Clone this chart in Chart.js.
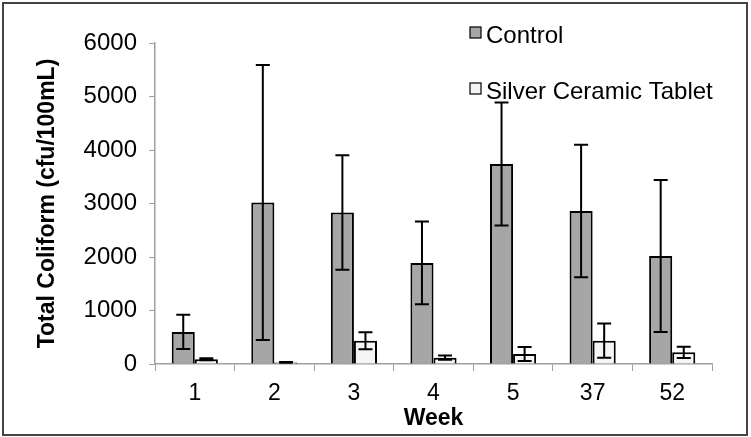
<!DOCTYPE html>
<html>
<head>
<meta charset="utf-8">
<script src="https://cdn.jsdelivr.net/npm/chart.js@4.4.0/dist/chart.umd.min.js"></script>
<style>
  html, body { margin: 0; padding: 0; background: #fff; }
  canvas { display: block; }
</style>
</head>
<body>
<canvas id="chart" width="751" height="437"></canvas>
<script>
// values
const weeks = ['1', '2', '3', '4', '5', '37', '52'];
const controlMeans = [600, 3020, 2830, 1890, 3740, 2860, 2020];
const controlErr = [320, 2570, 1070, 775, 1150, 1240, 1420];
const silverMeans = [88, 30, 435, 118, 187, 435, 218];
const silverErr = [20, 8, 160, 40, 130, 320, 105];
const yTicks = [0, 1000, 2000, 3000, 4000, 5000, 6000];

const FONT = "'Liberation Sans', Arial, Helvetica, sans-serif";

// white page with the dark frame round the whole picture
const frame = {
  id: 'frame',
  beforeDraw(chart) {
    const ctx = chart.ctx;
    ctx.save();
    ctx.fillStyle = '#fff';
    ctx.fillRect(0, 0, chart.width, chart.height);
    ctx.strokeStyle = '#444';
    ctx.lineWidth = 2;
    ctx.strokeRect(3, 3, chart.width - 7, chart.height - 5);
    ctx.restore();
  }
};

// error bars drawn from the y scale
const errorBars = {
  id: 'errorBars',
  afterDatasetsDraw(chart) {
    const ctx = chart.ctx;
    const y = chart.scales.y;
    const errs = [controlErr, silverErr];
    ctx.save();
    ctx.strokeStyle = '#000';
    ctx.lineWidth = 2;
    chart.data.datasets.forEach((ds, i) => {
      chart.getDatasetMeta(i).data.forEach((bar, j) => {
        const v = ds.data[j];
        const e = errs[i][j];
        const top = y.getPixelForValue(v + e);
        const bot = y.getPixelForValue(Math.max(v - e, 0));
        const x = bar.x;
        ctx.beginPath();
        ctx.moveTo(x, top); ctx.lineTo(x, bot);
        ctx.moveTo(x - 7, top); ctx.lineTo(x + 7, top);
        ctx.moveTo(x - 7, bot); ctx.lineTo(x + 7, bot);
        ctx.stroke();
      });
    });
    ctx.restore();
  }
};

// legend in the top right corner, stacked
const cornerLegend = {
  id: 'cornerLegend',
  afterDraw(chart) {
    const ctx = chart.ctx;
    ctx.save();
    ctx.font = '24px ' + FONT;
    ctx.textBaseline = 'middle';
    chart.data.datasets.forEach((ds, i) => {
      const cy = 32 + i * 56;
      ctx.fillStyle = ds.backgroundColor;
      ctx.fillRect(470, cy - 5, 11, 11);
      ctx.strokeStyle = '#000';
      ctx.lineWidth = 1.2;
      ctx.strokeRect(470, cy - 5, 11, 11);
      ctx.fillStyle = '#000';
      ctx.fillText(ds.label, 486, cy + 4);
    });
    ctx.restore();
  }
};

new Chart(document.getElementById('chart'), {
  type: 'bar',
  data: {
    labels: weeks,
    datasets: [
      {
        label: 'Control',
        data: controlMeans,
        backgroundColor: '#a6a6a6',
        borderColor: '#000',
        borderWidth: 2
      },
      {
        label: 'Silver Ceramic Tablet',
        data: silverMeans,
        backgroundColor: '#f5f5f5',
        borderColor: '#000',
        borderWidth: 2
      }
    ]
  },
  options: {
    responsive: false,
    animation: false,
    layout: { padding: { top: 43, right: 39, left: 0, bottom: 0 } },
    categoryPercentage: 0.58,
    barPercentage: 1.0,
    plugins: {
      legend: { display: false },
      tooltip: { enabled: false }
    },
    scales: {
      x: {
        grid: { drawOnChartArea: false, tickLength: 7, color: '#a0a0a0', offset: true },
        border: { color: '#a0a0a0', width: 1.5 },
        ticks: { color: '#000', font: { family: FONT, size: 23 }, padding: 9 },
        title: {
          display: true,
          text: 'Week',
          color: '#000',
          font: { family: FONT, size: 23, weight: 'bold' },
          padding: { top: 0, bottom: 5 }
        },
        afterFit(scale) { scale.height = 73; }
      },
      y: {
        min: 0,
        max: 6000,
        afterBuildTicks(scale) { scale.ticks = yTicks.map(v => ({ value: v })); },
        grid: { drawOnChartArea: false, tickLength: 6, color: '#a0a0a0' },
        border: { color: '#a0a0a0', width: 1.5 },
        ticks: {
          color: '#000',
          font: { family: FONT, size: 24 },
          padding: 12,
          callback: v => String(v)
        },
        title: {
          display: true,
          text: 'Total Coliform (cfu/100mL)',
          color: '#000',
          font: { family: FONT, size: 23, weight: 'bold' },
          padding: { top: 34, bottom: 0 }
        },
        afterFit(scale) { scale.width = 155; }
      }
    }
  },
  plugins: [frame, errorBars, cornerLegend]
});
</script>
</body>
</html>
